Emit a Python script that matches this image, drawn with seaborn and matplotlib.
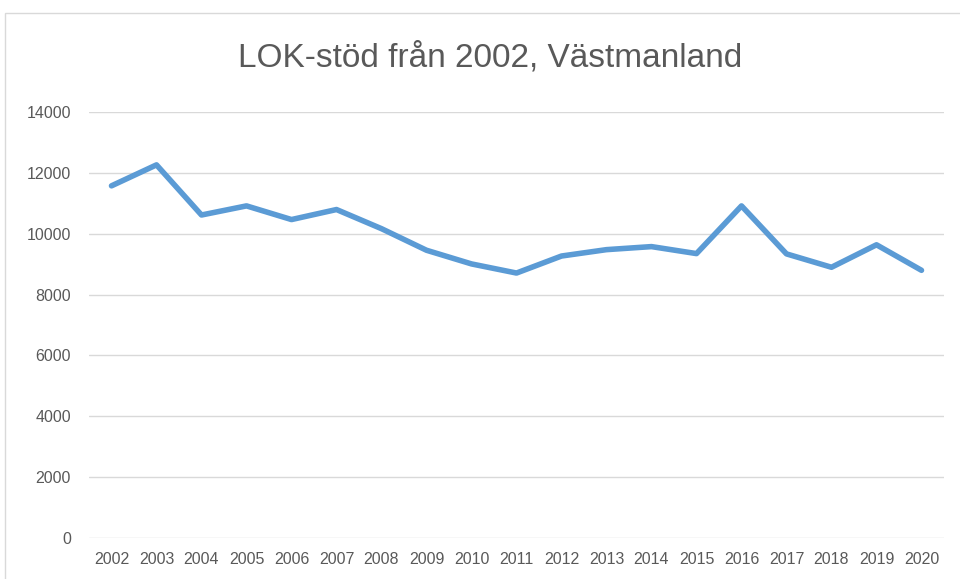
import matplotlib
matplotlib.use("Agg")
import matplotlib.pyplot as plt
import seaborn as sns
import pandas as pd
from matplotlib.patches import Rectangle

years = ["2002", "2003", "2004", "2005", "2006", "2007", "2008", "2009", "2010",
         "2011", "2012", "2013", "2014", "2015", "2016", "2017", "2018", "2019", "2020"]
values = [11580, 12270, 10620, 10920, 10470, 10800, 10170, 9460, 9010,
          8710, 9270, 9480, 9580, 9350, 10920, 9340, 8900, 9640, 8800]
yticks = [0, 2000, 4000, 6000, 8000, 10000, 12000, 14000]
title = "LOK-stöd från 2002, Västmanland"

sns.set_theme(style="white")
plt.rcParams['font.family'] = ['Liberation Sans Narrow', 'Liberation Sans', 'DejaVu Sans']

df = pd.DataFrame({"year": years, "value": values})

fig = plt.figure(figsize=(9.6, 5.79), dpi=100)
ax = fig.add_axes([89/960, 41.3/579, 855/960, 425.4/579])

sns.lineplot(data=df, x="year", y="value", ax=ax, color="#5B9BD5", linewidth=4.0,
             solid_capstyle="round", solid_joinstyle="round", sort=False)

ax.set_xlim(-0.5, len(years) - 0.5)
ax.set_ylim(0, 14000)
ax.set_yticks(yticks)
ax.set_yticklabels([str(t) for t in yticks])
ax.grid(axis="y", color="#d9d9d9", linewidth=1.0)
ax.grid(axis="x", visible=False)
for s in ax.spines.values():
    s.set_visible(False)
ax.tick_params(axis="both", length=0, labelsize=11.5, colors="#595959")
ax.tick_params(axis="x", pad=10.5)
ax.tick_params(axis="y", pad=13)
ax.set_xlabel("")
ax.set_ylabel("")

fig.text(490/960, 1 - 58/579, title, ha="center", va="center", fontsize=24, color="#595959")

fig.patches.append(Rectangle((5/960, -0.1), 1.2, 0.1 + (579 - 13)/579,
                             transform=fig.transFigure, fill=False,
                             edgecolor="#d9d9d9", linewidth=1.0))

fig.savefig("out.png", dpi=100)
